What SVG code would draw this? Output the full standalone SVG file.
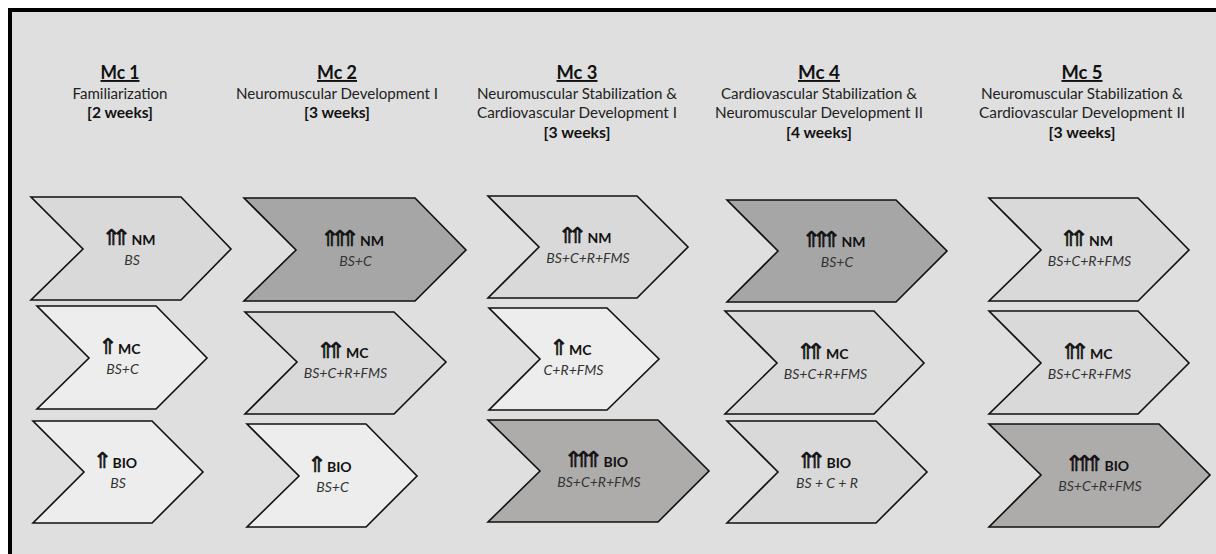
<svg xmlns="http://www.w3.org/2000/svg" width="1216" height="554" viewBox="0 0 1216 554">
<style>
.bg{fill:#dfdfdf}
.frame{fill:none;stroke:#000;stroke-width:4}
.chev{stroke:#111;stroke-width:1.6;stroke-linejoin:miter}
.light{fill:#d9d9d9}
.vlight{fill:#ededed}
.dark{fill:#a6a6a6}
.brown{fill:#aeabab}
.ttl{font-family:Lato,"Liberation Sans",sans-serif;font-weight:bold;font-size:19px;fill:#111;text-anchor:middle;text-decoration:underline}
.sub{font-family:Lato,"Liberation Sans",sans-serif;font-size:15.5px;fill:#222;text-anchor:middle}
.wk{font-family:Lato,"Liberation Sans",sans-serif;font-weight:bold;font-size:15.5px;fill:#111;text-anchor:middle}
.lab{font-family:Lato,"Liberation Sans",sans-serif;font-weight:bold;font-size:14px;fill:#111}
.arr{font-family:"DejaVu Sans",sans-serif;font-size:15px;fill:#111;stroke:#111;stroke-width:0.35;opacity:0.99}
.it{font-family:Lato,"Liberation Sans",sans-serif;font-style:italic;font-size:14px;fill:#333;text-anchor:middle}
</style>
<rect class="bg" x="10" y="10" width="1206" height="544"/>
<path class="frame" d="M10,554 V10 H1216"/>

<g id="header-mc1">
<text class="ttl" x="120" y="79" textLength="39" lengthAdjust="spacingAndGlyphs">Mc 1</text>
<text class="sub" x="120" y="99" textLength="95" lengthAdjust="spacingAndGlyphs">Familiarization</text>
<text class="wk" x="120" y="118" textLength="66" lengthAdjust="spacingAndGlyphs">[2 weeks]</text>
</g>
<g id="header-mc2">
<text class="ttl" x="337" y="79" textLength="40" lengthAdjust="spacingAndGlyphs">Mc 2</text>
<text class="sub" x="337" y="99" textLength="202" lengthAdjust="spacingAndGlyphs">Neuromuscular Development I</text>
<text class="wk" x="337" y="118" textLength="66" lengthAdjust="spacingAndGlyphs">[3 weeks]</text>
</g>
<g id="header-mc3">
<text class="ttl" x="577" y="79" textLength="41" lengthAdjust="spacingAndGlyphs">Mc 3</text>
<text class="sub" x="577" y="99" textLength="200" lengthAdjust="spacingAndGlyphs">Neuromuscular Stabilization &amp;</text>
<text class="sub" x="577" y="118" textLength="200" lengthAdjust="spacingAndGlyphs">Cardiovascular Development I</text>
<text class="wk" x="577" y="138" textLength="67" lengthAdjust="spacingAndGlyphs">[3 weeks]</text>
</g>
<g id="header-mc4">
<text class="ttl" x="819" y="79" textLength="42" lengthAdjust="spacingAndGlyphs">Mc 4</text>
<text class="sub" x="819" y="99" textLength="196" lengthAdjust="spacingAndGlyphs">Cardiovascular Stabilization &amp;</text>
<text class="sub" x="819" y="118" textLength="208" lengthAdjust="spacingAndGlyphs">Neuromuscular Development II</text>
<text class="wk" x="819" y="138" textLength="66" lengthAdjust="spacingAndGlyphs">[4 weeks]</text>
</g>
<g id="header-mc5">
<text class="ttl" x="1082" y="79" textLength="41" lengthAdjust="spacingAndGlyphs">Mc 5</text>
<text class="sub" x="1082" y="99" textLength="202" lengthAdjust="spacingAndGlyphs">Neuromuscular Stabilization &amp;</text>
<text class="sub" x="1082" y="118" textLength="206" lengthAdjust="spacingAndGlyphs">Cardiovascular Development II</text>
<text class="wk" x="1082" y="138" textLength="67" lengthAdjust="spacingAndGlyphs">[3 weeks]</text>
</g>

<g id="mc1-nm">
<polygon class="chev light" points="31,197 181,197 231,249 181,300 31,300 83,249"/>
<text class="arr" transform="translate(101.5,244.5) scale(1.6,1.45)" x="0 6.25">⇑⇑</text>
<text class="lab" x="131.5" y="244.5">NM</text>
<text class="it" x="132" y="264.5">BS</text>
</g>
<g id="mc1-mc">
<polygon class="chev vlight" points="37,306 156,306 207,358 156,409 37,409 89,358"/>
<text class="arr" transform="translate(98,353.5) scale(1.6,1.45)">⇑</text>
<text class="lab" x="118" y="353.5">MC</text>
<text class="it" x="122.5" y="373.5">BS+C</text>
</g>
<g id="mc1-bio">
<polygon class="chev vlight" points="33,421 152,421 203,472 152,523 33,523 84,472"/>
<text class="arr" transform="translate(92.5,467.5) scale(1.6,1.45)">⇑</text>
<text class="lab" x="112.5" y="467.5">BIO</text>
<text class="it" x="118" y="487.5">BS</text>
</g>

<g id="mc2-nm">
<polygon class="chev dark" points="244,198 415,198 466,250 415,301 244,301 296,250"/>
<text class="arr" transform="translate(320,245.5) scale(1.6,1.45)" x="0 6.25 12.5">⇑⇑⇑</text>
<text class="lab" x="360" y="245.5">NM</text>
<text class="it" x="355.5" y="265.5">BS+C</text>
</g>
<g id="mc2-mc">
<polygon class="chev light" points="245,312 394,312 446,362 394,414 245,414 297,362"/>
<text class="arr" transform="translate(316,357.5) scale(1.6,1.45)" x="0 6.25">⇑⇑</text>
<text class="lab" x="346" y="357.5">MC</text>
<text class="it" x="345.5" y="377.5">BS+C+R+FMS</text>
</g>
<g id="mc2-bio">
<polygon class="chev vlight" points="247,424 366,424 417,476 366,527 247,527 299,476"/>
<text class="arr" transform="translate(307,471.5) scale(1.6,1.45)">⇑</text>
<text class="lab" x="327" y="471.5">BIO</text>
<text class="it" x="332.5" y="491.5">BS+C</text>
</g>

<g id="mc3-nm">
<polygon class="chev light" points="488,196 637,196 688,247 637,298 488,298 539,247"/>
<text class="arr" transform="translate(557.5,242.5) scale(1.6,1.45)" x="0 6.25">⇑⇑</text>
<text class="lab" x="587.5" y="242.5">NM</text>
<text class="it" x="588" y="262.5">BS+C+R+FMS</text>
</g>
<g id="mc3-mc">
<polygon class="chev vlight" points="489,308 607,308 659,359 607,410 489,410 540,359"/>
<text class="arr" transform="translate(549,354.5) scale(1.6,1.45)">⇑</text>
<text class="lab" x="569" y="354.5">MC</text>
<text class="it" x="573.5" y="374.5">C+R+FMS</text>
</g>
<g id="mc3-bio">
<polygon class="chev brown" points="488,420 658,420 709,471 658,522 488,522 540,471"/>
<text class="arr" transform="translate(563.5,466.5) scale(1.6,1.45)" x="0 6.25 12.5">⇑⇑⇑</text>
<text class="lab" x="603.5" y="466.5">BIO</text>
<text class="it" x="599" y="486.5">BS+C+R+FMS</text>
</g>

<g id="mc4-nm">
<polygon class="chev dark" points="727,200 896,200 947,251 896,302 727,302 778,251"/>
<text class="arr" transform="translate(801.5,246.5) scale(1.6,1.45)" x="0 6.25 12.5">⇑⇑⇑</text>
<text class="lab" x="841.5" y="246.5">NM</text>
<text class="it" x="837" y="266.5">BS+C</text>
</g>
<g id="mc4-mc">
<polygon class="chev light" points="725,311 874,311 924,363 874,414 725,414 777,363"/>
<text class="arr" transform="translate(796,358.5) scale(1.6,1.45)" x="0 6.25">⇑⇑</text>
<text class="lab" x="826" y="358.5">MC</text>
<text class="it" x="825.5" y="378.5">BS+C+R+FMS</text>
</g>
<g id="mc4-bio">
<polygon class="chev light" points="727,421 876,421 927,472 876,523 727,523 778,472"/>
<text class="arr" transform="translate(796.5,467.5) scale(1.6,1.45)" x="0 6.25">⇑⇑</text>
<text class="lab" x="826.5" y="467.5">BIO</text>
<text class="it" x="827" y="487.5">BS + C + R</text>
</g>

<g id="mc5-nm">
<polygon class="chev light" points="989,198 1138,198 1189,250 1138,301 989,301 1041,250"/>
<text class="arr" transform="translate(1059,245.5) scale(1.6,1.45)" x="0 6.25">⇑⇑</text>
<text class="lab" x="1089" y="245.5">NM</text>
<text class="it" x="1089.5" y="265.5">BS+C+R+FMS</text>
</g>
<g id="mc5-mc">
<polygon class="chev light" points="989,311 1138,311 1189,363 1138,414 989,414 1041,363"/>
<text class="arr" transform="translate(1060,358.5) scale(1.6,1.45)" x="0 6.25">⇑⇑</text>
<text class="lab" x="1090" y="358.5">MC</text>
<text class="it" x="1089.5" y="378.5">BS+C+R+FMS</text>
</g>
<g id="mc5-bio">
<polygon class="chev brown" points="989,424 1159,424 1210,475 1159,527 989,527 1041,475"/>
<text class="arr" transform="translate(1064.5,470.5) scale(1.6,1.45)" x="0 6.25 12.5">⇑⇑⇑</text>
<text class="lab" x="1104.5" y="470.5">BIO</text>
<text class="it" x="1100" y="490.5">BS+C+R+FMS</text>
</g>
</svg>
